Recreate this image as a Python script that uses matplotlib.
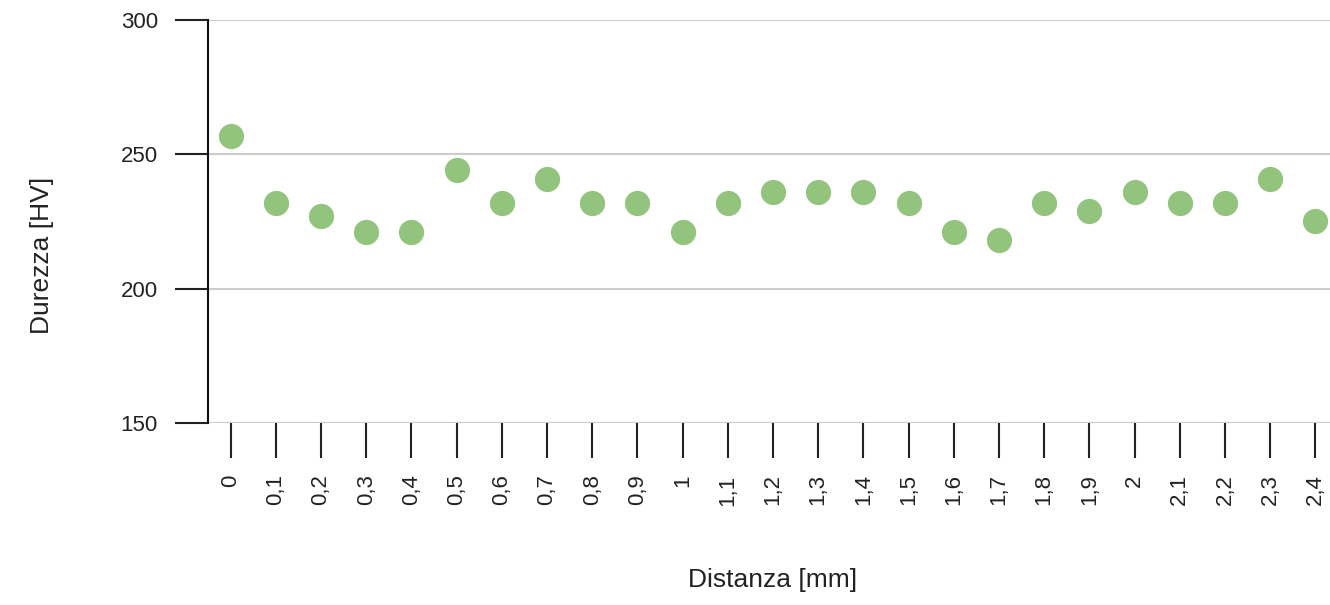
import numpy as np
import matplotlib.pyplot as plt

plt.rcParams['font.family'] = ['Liberation Sans', 'DejaVu Sans']

# dati
distanze = ['0', '0,1', '0,2', '0,3', '0,4', '0,5', '0,6', '0,7', '0,8', '0,9',
            '1', '1,1', '1,2', '1,3', '1,4', '1,5', '1,6', '1,7', '1,8', '1,9',
            '2', '2,1', '2,2', '2,3', '2,4']
durezza = [257, 232, 227, 221, 221, 244, 232, 241, 232, 232,
           221, 232, 236, 236, 236, 232, 221, 218, 232, 229,
           236, 232, 232, 241, 225]
y_ticks = [150, 200, 250, 300]

fig = plt.figure(figsize=(13.3, 6.05), dpi=100)
ax = fig.add_axes([208 / 1330, 182 / 605, 1130 / 1330, 403 / 605])

x = np.arange(len(distanze))
ax.scatter(x, durezza, s=330, color='#93c47d', zorder=3, linewidths=0)

ax.set_xlim(-0.5, len(distanze) - 0.5)
ax.set_ylim(150, 300)
ax.set_yticks(y_ticks)
ax.set_xticks(x)
ax.set_xticklabels(distanze, rotation=90)

for t in y_ticks:
    ax.axhline(t, color='#cccccc', lw=1.5, zorder=1)

for s in ['top', 'right', 'bottom']:
    ax.spines[s].set_visible(False)
ax.spines['left'].set_linewidth(1.5)
ax.spines['left'].set_color('#111111')

ax.tick_params(axis='y', length=24, width=1.5, pad=12, labelsize=16, colors='#222222')
ax.tick_params(axis='x', length=25, width=1.5, pad=12, labelsize=16, colors='#222222')

fig.text(773 / 1330, 1 - 580 / 605, 'Distanza [mm]', ha='center', va='center',
         fontsize=19, color='#222222')
fig.text(42 / 1330, 1 - 255 / 605, 'Durezza [HV]', ha='center', va='center',
         rotation=90, fontsize=19, color='#222222')

fig.savefig('out.png', dpi=100)
